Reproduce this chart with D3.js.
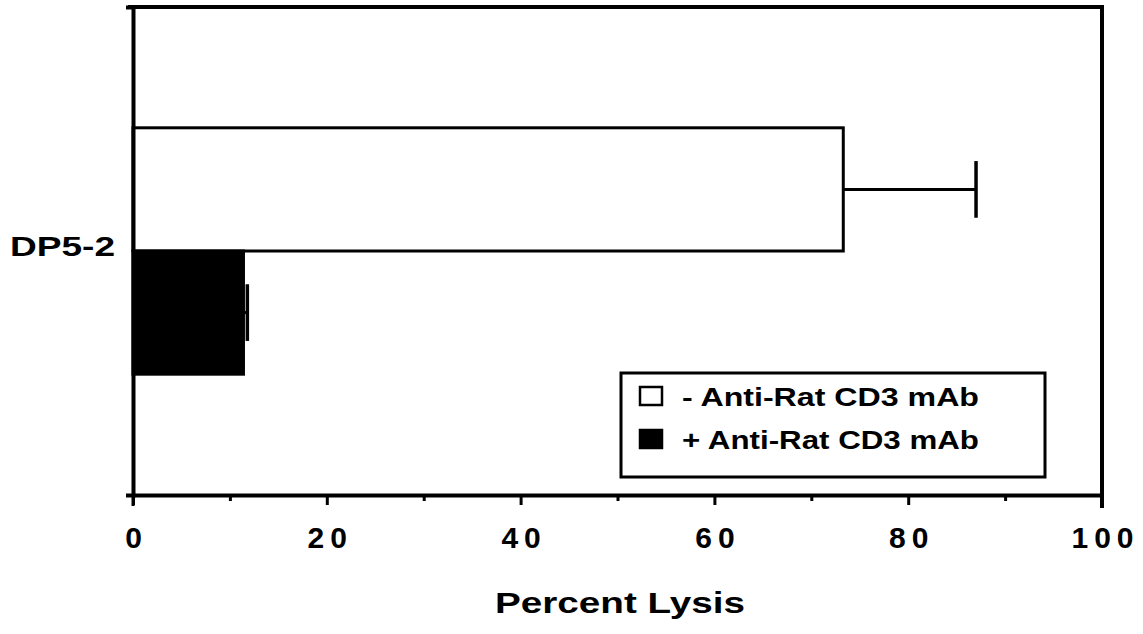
<!DOCTYPE html>
<html>
<head>
<meta charset="utf-8">
<script src="https://cdn.jsdelivr.net/npm/d3@7"></script>
<style>
  body { margin: 0; background: #fff; }
  svg { display: block; }
  text { font-family: "Liberation Sans", Arial, sans-serif; font-weight: bold; fill: #000; }
</style>
</head>
<body>
<svg id="chart"></svg>
<script>
const width = 1143;
const height = 634;

// data
const categories = ["DP5-2"];
const series = ["- Anti-Rat CD3 mAb", "+ Anti-Rat CD3 mAb"];
const seriesFill = ["#fff", "#000"];
const lysis = [73.3, 11.4];
const errorTop = [87.0, 11.8];
const xTicks = [0, 20, 40, 60, 80, 100];
const xMinorTicks = [10, 30, 50, 70, 90];

const svg = d3.select("#chart")
    .attr("width", width)
    .attr("height", height);

const x = d3.scaleLinear()
    .domain([0, 100])
    .range([133, 1102]);

const y0 = d3.scaleBand()
    .domain(categories)
    .range([7, 495])
    .padding(0.329);

const y1 = d3.scaleBand()
    .domain(series)
    .range([0, y0.bandwidth()]);

const rows = [];
categories.forEach(c => {
    series.forEach((s, i) => {
        rows.push({ cat: c, series: s, value: lysis[i], err: errorTop[i], fill: seriesFill[i] });
    });
});

// frame: top and right borders
svg.append("line")
    .attr("x1", 128).attr("x2", x(100) + 2)
    .attr("y1", 7).attr("y2", 7)
    .attr("stroke", "#000").attr("stroke-width", 4);

svg.append("line")
    .attr("x1", x(100)).attr("x2", x(100))
    .attr("y1", 7).attr("y2", 508)
    .attr("stroke", "#000").attr("stroke-width", 4);

// bars
const g = svg.append("g");

g.selectAll("rect.bar")
    .data(rows)
    .enter()
    .append("rect")
    .attr("class", "bar")
    .attr("x", x(0))
    .attr("y", d => y0(d.cat) + y1(d.series))
    .attr("width", d => x(d.value) - x(0))
    .attr("height", y1.bandwidth())
    .attr("fill", d => d.fill)
    .attr("stroke", "#000")
    .attr("stroke-width", 3);

// error bars
g.selectAll("line.err")
    .data(rows)
    .enter()
    .append("line")
    .attr("class", "err")
    .attr("x1", d => x(d.value))
    .attr("x2", d => x(d.err))
    .attr("y1", d => y0(d.cat) + y1(d.series) + y1.bandwidth() / 2)
    .attr("y2", d => y0(d.cat) + y1(d.series) + y1.bandwidth() / 2)
    .attr("stroke", "#000")
    .attr("stroke-width", 3);

g.selectAll("line.cap")
    .data(rows)
    .enter()
    .append("line")
    .attr("class", "cap")
    .attr("x1", d => x(d.err))
    .attr("x2", d => x(d.err))
    .attr("y1", d => y0(d.cat) + y1(d.series) + y1.bandwidth() * 0.27)
    .attr("y2", d => y0(d.cat) + y1(d.series) + y1.bandwidth() * 0.73)
    .attr("stroke", "#000")
    .attr("stroke-width", 3.5);

// x axis
const xAxis = svg.append("g")
    .attr("transform", "translate(0,495)")
    .call(d3.axisBottom(x).tickValues(xTicks).tickSize(10).tickSizeOuter(0).tickFormat(d3.format("d")));

xAxis.select(".domain").attr("stroke-width", 4);
xAxis.selectAll(".tick line").attr("stroke-width", 3);
xAxis.selectAll(".tick text")
    .attr("y", 0)
    .attr("dy", 0)
    .attr("transform", "translate(3,53)")
    .style("font-size", "30px")
    .style("letter-spacing", "6px")
    .style("font-family", "'Liberation Sans', Arial, sans-serif")
    .style("font-weight", "bold");

svg.append("g")
    .attr("transform", "translate(0,495)")
    .call(d3.axisBottom(x).tickValues(xMinorTicks).tickSize(6).tickFormat(""))
    .call(a => a.select(".domain").remove())
    .selectAll(".tick line").attr("stroke-width", 3);

// y axis
const yAxis = svg.append("g")
    .attr("transform", `translate(${x(0)},0)`)
    .call(d3.axisLeft(y0).tickSize(0).tickSizeOuter(7).tickPadding(18));

yAxis.select(".domain").attr("stroke-width", 4);
yAxis.selectAll(".tick text")
    .style("font-size", "28px")
    .style("font-family", "'Liberation Sans', Arial, sans-serif")
    .style("font-weight", "bold")
    .attr("dy", "0.18em")
    .attr("textLength", 105)
    .attr("lengthAdjust", "spacingAndGlyphs");

// y axis runs a little below the x axis
svg.append("line")
    .attr("x1", x(0)).attr("x2", x(0))
    .attr("y1", 495).attr("y2", 506)
    .attr("stroke", "#000").attr("stroke-width", 3);

// axis title
svg.append("text")
    .attr("x", 495)
    .attr("y", 613)
    .style("font-size", "29px")
    .attr("textLength", 250)
    .attr("lengthAdjust", "spacingAndGlyphs")
    .text("Percent  Lysis");

// legend
const legend = svg.append("g");

legend.append("rect")
    .attr("x", 621).attr("y", 373)
    .attr("width", 424).attr("height", 104)
    .attr("fill", "#fff")
    .attr("stroke", "#000")
    .attr("stroke-width", 3);

const legendRows = legend.selectAll("g.item")
    .data(series)
    .enter()
    .append("g")
    .attr("class", "item")
    .attr("transform", (d, i) => `translate(0,${396 + i * 43})`);

legendRows.append("rect")
    .attr("x", 640).attr("y", -9)
    .attr("width", 22).attr("height", 18)
    .attr("fill", (d, i) => seriesFill[i])
    .attr("stroke", "#000")
    .attr("stroke-width", 2.5);

legendRows.append("text")
    .attr("x", 682)
    .attr("y", 10)
    .style("font-size", "26px")
    .attr("textLength", 297)
    .attr("lengthAdjust", "spacingAndGlyphs")
    .text(d => d);
</script>
</body>
</html>
